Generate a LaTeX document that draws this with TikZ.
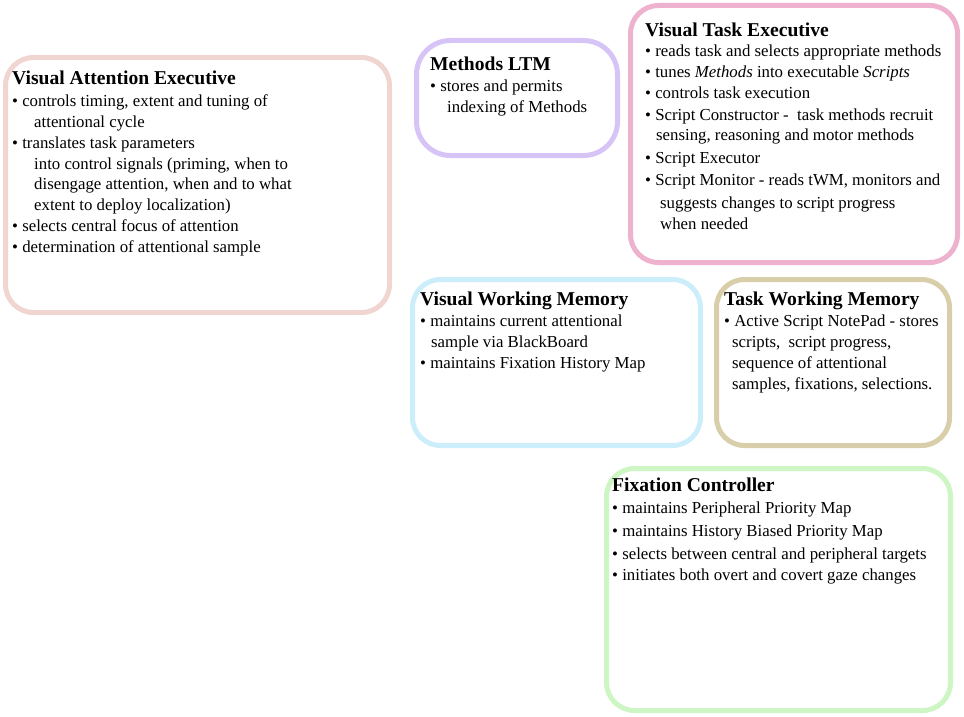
\documentclass[tikz,border=0pt]{standalone}
\usepackage{fontspec}
\setmainfont{Liberation Serif}
\definecolor{cVAE}{RGB}{241,213,208}
\definecolor{cLTM}{RGB}{214,196,246}
\definecolor{cVTE}{RGB}{238,178,206}
\definecolor{cVWM}{RGB}{204,238,250}
\definecolor{cTWM}{RGB}{216,206,170}
\definecolor{cFC}{RGB}{206,246,196}
\newcommand\ttl[1]{{\fontsize{19.6}{22}\selectfont\bfseries #1}}
\newcommand\bl{\textbullet\ }
\tikzset{
  panel/.style={draw=#1, line width=5pt, rounded corners=28pt, inner sep=0pt, fill=white},
  txt/.style={anchor=north west, inner sep=0pt, align=left, font=\fontsize{16.8}{20.8}\selectfont},
}
\begin{document}
\begin{tikzpicture}[x=1pt,y=-1pt]
\useasboundingbox (0,0) rectangle (964,717);
% panels
\node[panel=cVAE, minimum width=384pt, minimum height=255pt] (vae) at (197.5,185) {};
\node[panel=cLTM, minimum width=201pt, minimum height=115pt, rounded corners=34pt] (ltm) at (517,98) {};
\node[panel=cVTE, minimum width=327pt, minimum height=257pt] (vte) at (794,134) {};
\node[panel=cVWM, minimum width=288pt, minimum height=166pt] (vwm) at (556.5,362.5) {};
\node[panel=cTWM, minimum width=233pt, minimum height=166pt] (twm) at (833,362.5) {};
\node[panel=cFC, minimum width=344pt, minimum height=242pt] (fc) at (778.5,589.5) {};
% texts
\node[txt] (vaet) at (12,71) {\ttl{Visual Attention Executive}\\[1pt]
\bl controls timing, extent and tuning of\\
\hspace*{22pt}attentional cycle\\
\bl translates task parameters\\
\hspace*{22pt}into control signals (priming, when to\\
\hspace*{22pt}disengage attention, when and to what\\
\hspace*{22pt}extent to deploy localization)\\
\bl selects central focus of attention\\
\bl determination of attentional sample};
\node[txt] (ltmt) at (430,57) {\ttl{Methods LTM}\\[0pt]
\bl stores and permits\\
\hspace*{17pt}indexing of Methods};
\node[txt] (vtet) at (645,23) {\ttl{Visual Task Executive}\\[-1pt]
\bl reads task and selects appropriate methods\\
\bl tunes \textit{Methods} into executable \textit{Scripts}\\
\bl controls task execution\\[1pt]
\bl Script Constructor - \ task methods recruit\\
\hspace*{11pt}sensing, reasoning and motor methods\\[2pt]
\bl Script Executor\\[1pt]
\bl Script Monitor - reads tWM, monitors and\\[2pt]
\hspace*{15pt}suggests changes to script progress\\
\hspace*{15pt}when needed};
\node[txt] (vwmt) at (420,292) {\ttl{Visual Working Memory}\\[0pt]
\bl maintains current attentional\\
\hspace*{11pt}sample via BlackBoard\\
\bl maintains Fixation History Map};
\node[txt] (twmt) at (724,292) {\ttl{Task Working Memory}\\[0pt]
\bl Active Script NotePad - stores\\
\hspace*{8pt}scripts, \ script progress,\\
\hspace*{8pt}sequence of attentional\\
\hspace*{8pt}samples, fixations, selections.};
\node[txt] (fct) at (612,478) {\ttl{Fixation Controller}\\[1pt]
\bl maintains Peripheral Priority Map\\[2pt]
\bl maintains History Biased Priority Map\\[2pt]
\bl selects between central and peripheral targets\\
\bl initiates both overt and covert gaze changes};
\end{tikzpicture}
\end{document}
